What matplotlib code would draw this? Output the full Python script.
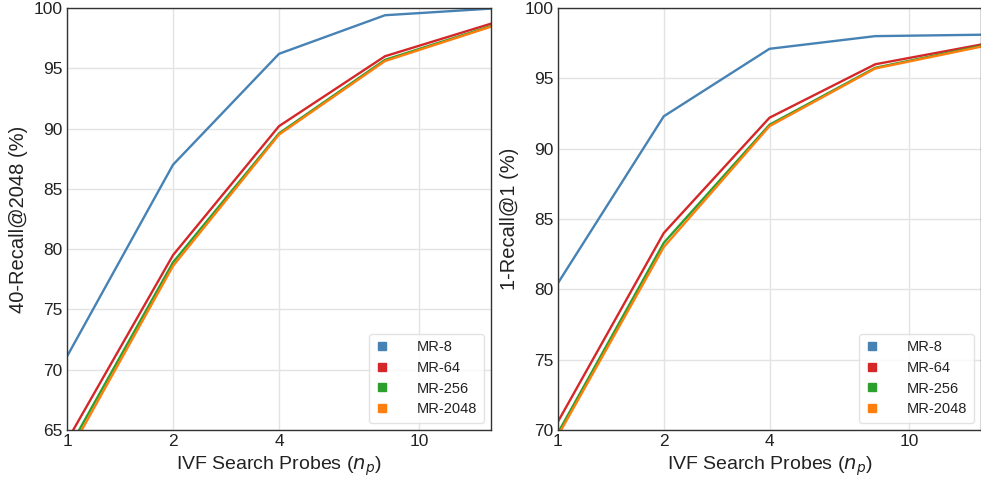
import numpy as np
import matplotlib
matplotlib.use("Agg")
import matplotlib.pyplot as plt
from matplotlib.lines import Line2D

plt.rcParams['font.family'] = ['Liberation Sans', 'DejaVu Sans']

probes = [1, 2, 4, 8, 16]
labels = ["MR-8", "MR-64", "MR-256", "MR-2048"]
colors = ["#4682b4", "#d62728", "#2ca02c", "#ff7f0e"]

# 40-Recall@2048
recall40 = {
    "MR-8": [71.1, 87.0, 96.2, 99.4, 99.95],
    "MR-64": [64.1, 79.5, 90.2, 96.0, 98.7],
    "MR-256": [63.2, 78.9, 89.6, 95.7, 98.5],
    "MR-2048": [62.8, 78.6, 89.5, 95.6, 98.45],
}
# 1-Recall@1
recall1 = {
    "MR-8": [80.45, 92.3, 97.1, 98.0, 98.1],
    "MR-64": [70.6, 84.0, 92.2, 96.0, 97.4],
    "MR-256": [69.8, 83.3, 91.7, 95.75, 97.3],
    "MR-2048": [69.6, 83.0, 91.6, 95.7, 97.25],
}

fig = plt.figure(figsize=(9.81, 4.83), dpi=100)
W, H = 981, 483
ax1 = fig.add_axes([67 / W, 53 / H, 424 / W, 422 / H])
ax2 = fig.add_axes([558 / W, 53 / H, 423 / W, 422 / H])

def style(ax, data, ylim, yticks, ylabel):
    for lab, c in zip(labels, colors):
        ax.plot(probes, data[lab], color=c, lw=1.7, label=lab)
    ax.set_xscale("log")
    ax.set_xlim(1, 16)
    ax.set_xticks([1, 2, 4, 10])
    ax.set_xticklabels(["1", "2", "4", "10"])
    ax.minorticks_off()
    ax.set_ylim(*ylim)
    ax.set_yticks(yticks)
    ax.grid(True, color="#e3e3e3", lw=1)
    ax.set_axisbelow(True)
    for s in ax.spines.values():
        s.set_color("#333333")
        s.set_linewidth(1.0)
    ax.tick_params(length=0, labelsize=12.5, pad=3, colors="#222222")
    ax.set_xlabel(r"IVF Search Probes ($n_p$)", fontsize=14, color="#222222", labelpad=4)
    ax.set_ylabel(ylabel, fontsize=14.5, color="#222222", labelpad=4)
    handles = [Line2D([], [], ls="none", marker="s", ms=5.5, color=c) for c in colors]
    leg = ax.legend(handles, labels, loc="lower right", fontsize=10.5,
                    handlelength=0.8, handletextpad=2.0, borderpad=0.45,
                    labelspacing=0.45, frameon=True, fancybox=True,
                    borderaxespad=0.5)
    leg.get_frame().set_edgecolor("#dddddd")
    leg.get_frame().set_linewidth(1.0)
    for t in leg.get_texts():
        t.set_color("#222222")

style(ax1, recall40, (65, 100), [65, 70, 75, 80, 85, 90, 95, 100], "40-Recall@2048 (%)")
style(ax2, recall1, (70, 100), [70, 75, 80, 85, 90, 95, 100], "1-Recall@1 (%)")

fig.savefig("out.png", dpi=100)
